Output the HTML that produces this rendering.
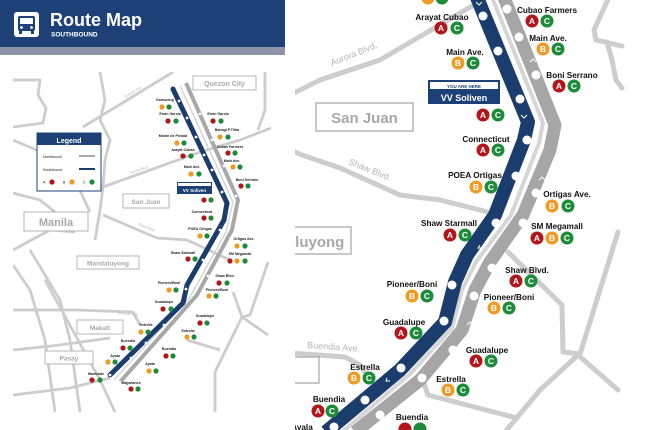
<!DOCTYPE html>
<html><head><meta charset="utf-8"><style>
html,body{margin:0;padding:0;background:#fff;width:650px;height:430px;overflow:hidden}
svg{display:block;font-family:"Liberation Sans",sans-serif}
.rd{fill:none;stroke:#cdcdcd;stroke-width:5;stroke-linejoin:round;stroke-linecap:round}
.rl{fill:none;stroke:#cdcdcd;stroke-width:2.8;stroke-linejoin:round}
.a{fill:#b3151b}.b{fill:#ef9a22}.c{fill:#1c8c3a}
.bt{fill:#fff;font-size:8.5px;font-weight:bold;text-anchor:middle}
.st{font-size:8.2px;font-weight:bold;fill:#111;text-anchor:middle}
.ss{font-size:3.6px;font-weight:bold;fill:#222;text-anchor:middle}
.box{fill:#fff;stroke:#b5b5b5}
.bx{fill:#a8a8a8;font-weight:bold;text-anchor:middle}
.rn{fill:#b5b5b5;font-size:9px}
.rns{fill:#b5b5b5;font-size:3.6px}
</style></head><body>
<svg width="650" height="430" viewBox="0 0 650 430">
<defs><clipPath id="rp"><rect x="295" y="0" width="330" height="430"/></clipPath>
<clipPath id="lp"><rect x="13" y="72" width="258" height="340"/></clipPath></defs>

<!-- LEFT PANEL -->
<rect x="0" y="0" width="285" height="47" fill="#1d4177"/>
<rect x="0" y="47" width="285" height="8" fill="#8e93aa"/>
<rect x="14" y="12" width="25" height="25" rx="3" fill="#fff"/>
<rect x="18" y="16" width="17" height="15" rx="2" fill="#1d4177"/>
<rect x="20" y="18" width="13" height="6" fill="#fff"/>
<circle cx="21.5" cy="27.5" r="1.4" fill="#fff"/><circle cx="31.5" cy="27.5" r="1.4" fill="#fff"/>
<rect x="19" y="31" width="3" height="3" fill="#1d4177"/><rect x="31" y="31" width="3" height="3" fill="#1d4177"/>
<text x="50" y="26" fill="#fff" font-size="18" font-weight="bold">Route Map</text>
<text x="51" y="36.5" fill="#fff" font-size="6.5" font-weight="bold">SOUTHBOUND</text>

<g clip-path="url(#lp)">
<path class="rl" d="M13,80 H40 L38,95 L46,108 L43,123 L13,127"/>
<path class="rl" d="M83,127 L173,72"/>
<path class="rl" d="M13,140 L60,160 L103,187 L200,152 L240,140 L271,128"/>
<path class="rl" d="M60,160 L75,180 L90,212"/>
<path class="rl" d="M13,193 L40,200 L55,212"/>
<path class="rl" d="M100,72 L105,100 L100,120 L110,140 L105,160 L103,187 L100,210 L95,240"/>
<path class="rl" d="M103,215 L157,238 L187,240 L230,260"/>
<path class="rl" d="M13,250 L50,230 L75,232"/>
<path class="rl" d="M13,265 L30,290 L45,340 L55,412"/>
<path class="rl" d="M30,250 L60,300 L70,340 L80,412"/>
<path class="rl" d="M45,280 L100,380 L115,412"/>
<path class="rl" d="M13,310 L77,310 L133,312 L140,325"/>
<path class="rl" d="M13,350 L60,345 L110,338"/>
<path class="rl" d="M13,395 L70,388 L110,378"/>
<path class="rl" d="M265,72 V110 L258,130"/>
<path class="rl" d="M233,292 L242,317 L268,335"/>
<path class="rl" d="M268,262 L250,315 L242,317 L215,372 L215,412"/>
<path class="rl" d="M187,340 L220,350"/>
</g>
<text class="rns" transform="translate(125,98) rotate(-30)">Quezon Ave.</text>
<text class="rns" transform="translate(130,174) rotate(-18)">Aurora Blvd.</text>
<text class="rns" transform="translate(138,225) rotate(22)">Shaw Blvd.</text>
<text class="rns" transform="translate(118,314) rotate(5)">Buendia Ave.</text>

<path d="M186,83 L238,200 L232,230 L197,295 L120,382" fill="none" stroke="#a8a8a8" stroke-width="4"/>
<path d="M180,86 L233,202 L226,232 L190,297 L114,380" fill="none" stroke="#d5d5d5" stroke-width="1.5"/>
<path d="M173,89 L227,203 L224,220 L187,285 L183,303 L110,375" fill="none" stroke="#1b3d6e" stroke-width="5" stroke-linecap="round"/>
<g fill="#fff">
<circle cx="179" cy="101" r="1.4"/><circle cx="187" cy="118" r="1.4"/><circle cx="196" cy="137" r="1.4"/><circle cx="204" cy="155" r="1.4"/><circle cx="212" cy="170" r="1.4"/><circle cx="222" cy="192" r="1.4"/><circle cx="220" cy="230" r="1.4"/><circle cx="203" cy="260" r="1.4"/><circle cx="186" cy="289" r="1.4"/><circle cx="164" cy="325" r="1.4"/><circle cx="146" cy="343" r="1.4"/><circle cx="131" cy="358" r="1.4"/><circle cx="110" cy="375" r="1.4"/>
<circle cx="200" cy="114" r="1.4"/><circle cx="212" cy="140" r="1.4"/><circle cx="224" cy="166" r="1.4"/><circle cx="236" cy="196" r="1.4"/><circle cx="231" cy="238" r="1.4"/><circle cx="208" cy="276" r="1.4"/><circle cx="190" cy="318" r="1.4"/><circle cx="170" cy="334" r="1.4"/><circle cx="152" cy="351" r="1.4"/><circle cx="120" cy="382" r="1.4"/>
</g>

<rect class="box" x="193" y="76" width="63" height="14"/><text class="bx" x="224.5" y="86" font-size="7">Quezon City</text>
<rect class="box" x="123" y="194" width="46" height="14"/><text class="bx" x="146" y="204" font-size="6.5">San Juan</text>
<rect class="box" x="24" y="212" width="64" height="19"/><text class="bx" x="56" y="226" font-size="11" fill="#999">Manila</text>
<rect class="box" x="77" y="256" width="62" height="13"/><text class="bx" x="108" y="265.5" font-size="6.5">Mandaluyong</text>
<rect class="box" x="77" y="320" width="46" height="14"/><text class="bx" x="100" y="330" font-size="6.5">Makati</text>
<rect class="box" x="45" y="351" width="48" height="13"/><text class="bx" x="69" y="360.5" font-size="6.5">Pasay</text>

<rect x="37" y="133" width="64" height="58" fill="#fff" stroke="#1d4177" stroke-width="1"/>
<rect x="37" y="133" width="64" height="12" fill="#1d4177"/>
<text x="69" y="143" fill="#fff" font-size="7" font-weight="bold" text-anchor="middle">Legend</text>
<text x="43" y="158" font-size="3.6" fill="#222">Northbound</text><line x1="79" y1="156" x2="95" y2="156" stroke="#a8a8a8" stroke-width="2"/>
<text x="43" y="171" font-size="3.6" fill="#222">Southbound</text><line x1="79" y1="169" x2="95" y2="169" stroke="#1b3d6e" stroke-width="2"/>
<text x="43" y="183.5" font-size="3.6">A</text><circle cx="52" cy="182" r="2.6" class="a"/>
<text x="63" y="183.5" font-size="3.6">B</text><circle cx="72" cy="182" r="2.6" class="b"/>
<text x="83" y="183.5" font-size="3.6">C</text><circle cx="92" cy="182" r="2.6" class="c"/>

<rect x="177" y="182" width="35" height="12" fill="#1d4177"/><rect x="178" y="183" width="33" height="3" fill="#fff"/>
<text x="194.5" y="192" fill="#fff" font-size="4.5" font-weight="bold" text-anchor="middle">VV Soliven</text>

<g>
<text class="ss" x="165" y="101">Kamuning</text><circle class="b" cx="162" cy="107" r="2.6"/><circle class="c" cx="169" cy="107" r="2.6"/>
<text class="ss" x="170" y="115">Ernin Garcia</text><circle class="a" cx="168" cy="121" r="2.6"/><circle class="c" cx="176" cy="121" r="2.6"/>
<text class="ss" x="218" y="115">Ernin Garcia</text><circle class="a" cx="213" cy="121" r="2.6"/><circle class="c" cx="221" cy="121" r="2.6"/>
<text class="ss" x="173" y="137">Monte de Piedad</text><circle class="b" cx="177" cy="143" r="2.6"/><circle class="c" cx="184" cy="143" r="2.6"/>
<text class="ss" x="227" y="131">Bahagi P.Tillar</text><circle class="b" cx="220" cy="137" r="2.6"/><circle class="c" cx="228" cy="137" r="2.6"/>
<text class="ss" x="183" y="151">Arayat Cubao</text><circle class="a" cx="183" cy="156" r="2.6"/><circle class="c" cx="191" cy="156" r="2.6"/>
<text class="ss" x="230" y="148">Cubao Farmers</text><circle class="a" cx="228" cy="153" r="2.6"/><circle class="c" cx="235" cy="153" r="2.6"/>
<text class="ss" x="192" y="168">Main Ave.</text><circle class="b" cx="191" cy="174" r="2.6"/><circle class="c" cx="199" cy="174" r="2.6"/>
<text class="ss" x="232" y="162">Main Ave.</text><circle class="b" cx="233" cy="167" r="2.6"/><circle class="c" cx="240" cy="167" r="2.6"/>
<text class="ss" x="247" y="181">Boni Serrano</text><circle class="a" cx="241" cy="186" r="2.6"/><circle class="c" cx="248" cy="186" r="2.6"/>
<circle class="a" cx="204" cy="200" r="2.6"/><circle class="c" cx="211" cy="200" r="2.6"/>
<text class="ss" x="202" y="213">Connecticut</text><circle class="a" cx="204" cy="218" r="2.6"/><circle class="c" cx="211" cy="218" r="2.6"/>
<text class="ss" x="200" y="230">POEA Ortigas</text><circle class="b" cx="200" cy="236" r="2.6"/><circle class="c" cx="207" cy="236" r="2.6"/>
<text class="ss" x="244" y="240">Ortigas Ave.</text><circle class="b" cx="237" cy="246" r="2.6"/><circle class="c" cx="245" cy="246" r="2.6"/>
<text class="ss" x="183" y="254">Shaw Starmall</text><circle class="a" cx="188" cy="259" r="2.6"/><circle class="c" cx="195" cy="259" r="2.6"/>
<text class="ss" x="240" y="255">SM Megamall</text><circle class="a" cx="230" cy="261" r="2.6"/><circle class="b" cx="237" cy="261" r="2.6"/><circle class="c" cx="245" cy="261" r="2.6"/>
<text class="ss" x="225" y="277">Shaw Blvd.</text><circle class="a" cx="219" cy="283" r="2.6"/><circle class="c" cx="227" cy="283" r="2.6"/>
<text class="ss" x="169" y="284">Pioneer/Boni</text><circle class="b" cx="169" cy="290" r="2.6"/><circle class="c" cx="176" cy="290" r="2.6"/>
<text class="ss" x="217" y="291">Pioneer/Boni</text><circle class="b" cx="209" cy="296" r="2.6"/><circle class="c" cx="216" cy="296" r="2.6"/>
<text class="ss" x="164" y="303">Guadalupe</text><circle class="a" cx="163" cy="309" r="2.6"/><circle class="c" cx="171" cy="309" r="2.6"/>
<text class="ss" x="205" y="317">Guadalupe</text><circle class="a" cx="200" cy="323" r="2.6"/><circle class="c" cx="207" cy="323" r="2.6"/>
<text class="ss" x="146" y="326">Estrella</text><circle class="b" cx="141" cy="332" r="2.6"/><circle class="c" cx="148" cy="332" r="2.6"/>
<text class="ss" x="188" y="332">Estrella</text><circle class="b" cx="187" cy="337" r="2.6"/><circle class="c" cx="194" cy="337" r="2.6"/>
<text class="ss" x="128" y="342">Buendia</text><circle class="a" cx="123" cy="348" r="2.6"/><circle class="c" cx="130" cy="348" r="2.6"/>
<text class="ss" x="169" y="350">Buendia</text><circle class="a" cx="166" cy="356" r="2.6"/><circle class="c" cx="173" cy="356" r="2.6"/>
<text class="ss" x="115" y="357">Ayala</text><circle class="b" cx="108" cy="362" r="2.6"/><circle class="c" cx="115" cy="362" r="2.6"/>
<text class="ss" x="150" y="365">Ayala</text><circle class="b" cx="149" cy="371" r="2.6"/><circle class="c" cx="156" cy="371" r="2.6"/>
<text class="ss" x="96" y="375">Mantrade</text><circle class="a" cx="92" cy="380" r="2.6"/><circle class="c" cx="100" cy="380" r="2.6"/>
<text class="ss" x="131" y="384">Magallanes</text><circle class="a" cx="131" cy="389" r="2.6"/><circle class="c" cx="138" cy="389" r="2.6"/>
</g>

<!-- RIGHT PANEL -->
<g clip-path="url(#rp)">
<path class="rd" d="M290,95 L320,80 L380,60 L472,6"/>
<path class="rd" d="M295,152 L302,155 L340,168 L400,195 L440,200 L492,213"/>
<path class="rd" d="M610,-5 L594,30 L596,40 L622,46"/>
<path class="rd" d="M607,42 L612,60 L616,80 L622,88"/>
<path class="rd" d="M290,353 L345,357 L360,365 L372,382"/>
<path class="rd" d="M422,378 L428,395 L517,418"/>
<path class="rd" d="M508,252 L562,305 L563,352 L580,354 L618,232"/>
<path class="rd" d="M578,355 L618,390"/>
<path class="rd" d="M578,355 L540,390 L505,432"/>
<text class="rn" transform="translate(332,66) rotate(-22)">Aurora Blvd.</text>
<text class="rn" transform="translate(348,164) rotate(22)">Shaw Blvd.</text>
<text class="rn" transform="translate(307,348) rotate(4)">Buendia Ave.</text>

<rect class="box" x="316" y="103" width="97" height="28" stroke-width="1.5"/><text class="bx" x="364.5" y="123" font-size="15">San Juan</text>
<rect class="box" x="230" y="227" width="121" height="27" stroke-width="1.5"/><text class="bx" x="296" y="247" font-size="15">Mandaluyong</text>
<rect class="box" x="240" y="357" width="79" height="26" stroke-width="1.5"/>

<path d="M503,-5 L555,125 L550,150 L523,215 L490,262 L475,290 L462,330 L420,380 L355,432" fill="none" stroke="#a6a6a6" stroke-width="13" stroke-linejoin="round"/>
<path d="M491,-5 L543,123 L539,143 L511,215 L476,262 L462,290 L452,328 L410,374 L342,432" fill="none" stroke="#d6d6d6" stroke-width="4" stroke-linejoin="round"/>
<path d="M476,-5 L528,122 L524,140 L495,215 L467,255 L455,282 L445,322 L400,370 L326,432" fill="none" stroke="#1b3d6e" stroke-width="14" stroke-linejoin="round"/>
<g fill="#fff">
<circle cx="483" cy="16" r="4.5"/><circle cx="498" cy="51" r="4.5"/><circle cx="520" cy="99" r="4.5"/><circle cx="527" cy="140" r="4.5"/><circle cx="516" cy="176" r="4.5"/><circle cx="496" cy="223" r="4.5"/><circle cx="452" cy="285" r="4.5"/><circle cx="444" cy="321" r="4.5"/><circle cx="401" cy="368" r="4.5"/><circle cx="365" cy="400" r="4.5"/><circle cx="334" cy="427" r="4.5"/>
<circle cx="507" cy="9" r="4.5"/><circle cx="519" cy="37" r="4.5"/><circle cx="536" cy="75" r="4.5"/><circle cx="536" cy="193" r="4.5"/><circle cx="523" cy="223" r="4.5"/><circle cx="492" cy="268" r="4.5"/><circle cx="474" cy="296" r="4.5"/><circle cx="453" cy="350" r="4.5"/><circle cx="422" cy="378" r="4.5"/><circle cx="380" cy="415" r="4.5"/>
</g>
<g fill="none" stroke="#fff" stroke-width="1">
<path d="M476,2 L479,5 L482,2"/><path d="M521,115 L524,118 L527,115"/><path d="M480,245 L478,248 L482,248"/><path d="M387,378 L386,381 L390,381"/>
<path d="M530,62 L533,59 L536,62"/><path d="M539,180 L542,177 L545,180"/><path d="M467,325 L470,322 L473,325"/>
</g>

<rect x="428" y="80" width="72" height="24" fill="#1d4177"/><rect x="430" y="82" width="68" height="7" fill="#fff"/>
<text x="464" y="88" fill="#1d4177" font-size="4.5" font-weight="bold" text-anchor="middle">YOU ARE HERE</text>
<text x="464" y="101" fill="#fff" font-size="9" font-weight="bold" text-anchor="middle">VV Soliven</text>

<g>
<circle class="b" cx="428" cy="-2" r="6.5"/><circle class="c" cx="442" cy="-2" r="6.5"/>
<text class="st" x="442" y="20">Arayat Cubao</text><circle class="a" cx="441" cy="28" r="6.5"/><text class="bt" x="441" y="31">A</text><circle class="c" cx="457" cy="28" r="6.5"/><text class="bt" x="457" y="31">C</text>
<text class="st" x="547" y="13">Cubao Farmers</text><circle class="a" cx="532" cy="21" r="6.5"/><text class="bt" x="532" y="24">A</text><circle class="c" cx="547" cy="21" r="6.5"/><text class="bt" x="547" y="24">C</text>
<text class="st" x="465" y="55">Main Ave.</text><circle class="b" cx="458" cy="63" r="6.5"/><text class="bt" x="458" y="66">B</text><circle class="c" cx="473" cy="63" r="6.5"/><text class="bt" x="473" y="66">C</text>
<text class="st" x="548" y="41">Main Ave.</text><circle class="b" cx="543" cy="49" r="6.5"/><text class="bt" x="543" y="52">B</text><circle class="c" cx="558" cy="49" r="6.5"/><text class="bt" x="558" y="52">C</text>
<text class="st" x="572" y="78">Boni Serrano</text><circle class="a" cx="559" cy="86" r="6.5"/><text class="bt" x="559" y="89">A</text><circle class="c" cx="574" cy="86" r="6.5"/><text class="bt" x="574" y="89">C</text>
<circle class="a" cx="483" cy="115" r="6.5"/><text class="bt" x="483" y="118">A</text><circle class="c" cx="498" cy="115" r="6.5"/><text class="bt" x="498" y="118">C</text>
<text class="st" x="486" y="142">Connecticut</text><circle class="a" cx="483" cy="150" r="6.5"/><text class="bt" x="483" y="153">A</text><circle class="c" cx="498" cy="150" r="6.5"/><text class="bt" x="498" y="153">C</text>
<text class="st" x="475" y="178">POEA Ortigas</text><circle class="b" cx="476" cy="187" r="6.5"/><text class="bt" x="476" y="190">B</text><circle class="c" cx="491" cy="187" r="6.5"/><text class="bt" x="491" y="190">C</text>
<text class="st" x="567" y="197">Ortigas Ave.</text><circle class="b" cx="552" cy="206" r="6.5"/><text class="bt" x="552" y="209">B</text><circle class="c" cx="568" cy="206" r="6.5"/><text class="bt" x="568" y="209">C</text>
<text class="st" x="449" y="226">Shaw Starmall</text><circle class="a" cx="450" cy="235" r="6.5"/><text class="bt" x="450" y="238">A</text><circle class="c" cx="465" cy="235" r="6.5"/><text class="bt" x="465" y="238">C</text>
<text class="st" x="557" y="229">SM Megamall</text><circle class="a" cx="537" cy="238" r="6.5"/><text class="bt" x="537" y="241">A</text><circle class="b" cx="552" cy="238" r="6.5"/><text class="bt" x="552" y="241">B</text><circle class="c" cx="567" cy="238" r="6.5"/><text class="bt" x="567" y="241">C</text>
<text class="st" x="527" y="273">Shaw Blvd.</text><circle class="a" cx="516" cy="281" r="6.5"/><text class="bt" x="516" y="284">A</text><circle class="c" cx="531" cy="281" r="6.5"/><text class="bt" x="531" y="284">C</text>
<text class="st" x="412" y="287">Pioneer/Boni</text><circle class="b" cx="412" cy="296" r="6.5"/><text class="bt" x="412" y="299">B</text><circle class="c" cx="427" cy="296" r="6.5"/><text class="bt" x="427" y="299">C</text>
<text class="st" x="509" y="300">Pioneer/Boni</text><circle class="b" cx="494" cy="308" r="6.5"/><text class="bt" x="494" y="311">B</text><circle class="c" cx="509" cy="308" r="6.5"/><text class="bt" x="509" y="311">C</text>
<text class="st" x="404" y="325">Guadalupe</text><circle class="a" cx="401" cy="333" r="6.5"/><text class="bt" x="401" y="336">A</text><circle class="c" cx="416" cy="333" r="6.5"/><text class="bt" x="416" y="336">C</text>
<text class="st" x="487" y="353">Guadalupe</text><circle class="a" cx="476" cy="361" r="6.5"/><text class="bt" x="476" y="364">A</text><circle class="c" cx="491" cy="361" r="6.5"/><text class="bt" x="491" y="364">C</text>
<text class="st" x="365" y="370">Estrella</text><circle class="b" cx="354" cy="378" r="6.5"/><text class="bt" x="354" y="381">B</text><circle class="c" cx="369" cy="378" r="6.5"/><text class="bt" x="369" y="381">C</text>
<text class="st" x="451" y="382">Estrella</text><circle class="b" cx="448" cy="390" r="6.5"/><text class="bt" x="448" y="393">B</text><circle class="c" cx="463" cy="390" r="6.5"/><text class="bt" x="463" y="393">C</text>
<text class="st" x="329" y="402">Buendia</text><circle class="a" cx="318" cy="411" r="6.5"/><text class="bt" x="318" y="414">A</text><circle class="c" cx="332" cy="411" r="6.5"/><text class="bt" x="332" y="414">C</text>
<text class="st" x="412" y="420">Buendia</text><circle class="a" cx="405" cy="429" r="6.5"/><circle class="c" cx="420" cy="429" r="6.5"/>
<text class="st" x="302" y="430">Ayala</text>
</g>
</g>
</svg>
</body></html>
